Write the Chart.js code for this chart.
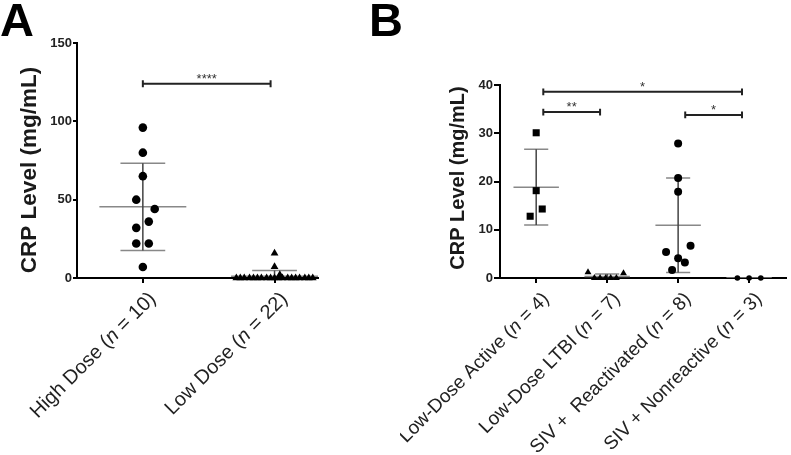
<!DOCTYPE html>
<html>
<head>
<meta charset="utf-8">
<script src="https://cdn.jsdelivr.net/npm/chart.js@4.4.0/dist/chart.umd.min.js"></script>
<style>
  body { margin: 0; background: #fff; width: 791px; height: 455px; overflow: hidden; position: relative; font-family: 'Liberation Sans', Arial, sans-serif; }
  .panel { position: absolute; top: 0; }
  .letter { position: absolute; top: -4px; font-weight: bold; font-size: 47px; line-height: 1; color: #000; }
</style>
</head>
<body>
<div class="panel" style="left:0"><canvas id="chartA" width="400" height="455"></canvas></div>
<div class="panel" style="left:400px"><canvas id="chartB" width="391" height="455"></canvas></div>
<div class="letter" style="left:0px">A</div>
<div class="letter" style="left:369px">B</div>
<script>
// Panel A - CRP by dose
const groupsA = ['High Dose', 'Low Dose'];
const countsA = [10, 22];
const highDose = [96, 80, 65, 50, 44, 36, 32, 22, 22, 7];
const highDoseJitter = [0, 0, 0, -0.05, 0.09, 0.045, -0.05, -0.05, 0.045, 0];
const lowDose = [15.8, 7.2, 2, 0, 0, 0, 0, 0, 0, 0, 0, 0, 0, 0, 0, 0, 0, 0, 0, 0, 0, 0];
const lowDoseJitter = [0, 0, 0.04, -0.29, -0.26, -0.23, -0.19, -0.16, -0.13, -0.1, -0.06, -0.03, 0, 0.03, 0.06, 0.1, 0.13, 0.16, 0.19, 0.23, 0.26, 0.29];
const ticksA = [0, 50, 100, 150];
const sigA = [{ from: 0, to: 0.97, y: 124, text: '****' }];

// Panel B - CRP by outcome
const groupsB = ['Low-Dose Active', 'Low-Dose LTBI', 'SIV +  Reactivated', 'SIV + Nonreactive'];
const countsB = [4, 7, 8, 3];
const ldActive = [30.1, 18.1, 14.3, 12.8];
const ldActiveJitter = [0, 0, 0.085, -0.085];
const ldLtbi = [1.2, 0, 0, 0, 0, 0, 1.0];
const ldLtbiJitter = [-0.27, -0.18, -0.1, -0.02, 0.05, 0.13, 0.23];
const sivReact = [27.9, 20.7, 17.9, 6.7, 5.4, 4.1, 3.2, 1.65];
const sivReactJitter = [0, 0, 0, 0.175, -0.17, 0, 0.095, -0.085];
const sivNonreact = [0, 0, 0];
const sivNonreactJitter = [-0.165, 0, 0.165];
const ticksB = [0, 10, 20, 30, 40];
const sigB = [
  { from: 0.1, to: 2.9, y: 38.6, text: '*' },
  { from: 0.1, to: 0.9, y: 34.4, text: '**' },
  { from: 2.1, to: 2.9, y: 33.8, text: '*' }
];

const FONT = "'Liberation Sans', Arial, sans-serif";

function mean(a) { return a.reduce((s, v) => s + v, 0) / a.length; }
function sd(a) {
  const m = mean(a);
  return Math.sqrt(a.reduce((s, v) => s + (v - m) * (v - m), 0) / (a.length - 1));
}

function points(values, jitter, idx) {
  return values.map((v, i) => ({ x: idx + jitter[i], y: v }));
}

function scatterSet(data, style, radius) {
  return {
    data: data, showLine: false, pointStyle: style, pointRadius: radius,
    pointBackgroundColor: '#000', pointBorderColor: '#000', pointBorderWidth: 0, clip: false
  };
}

// mean line + sd caps (grey) and sd stems (dark)
function summarySets(sets, half, cap) {
  const bars = [], stems = [];
  sets.forEach((vals, i) => {
    const m = mean(vals), s = sd(vals);
    bars.push({ x: i - half, y: m }, { x: i + half, y: m }, { x: i, y: null },
      { x: i - cap, y: m + s }, { x: i + cap, y: m + s }, { x: i, y: null },
      { x: i - cap, y: m - s }, { x: i + cap, y: m - s }, { x: i, y: null });
    stems.push({ x: i, y: m - s }, { x: i, y: m + s }, { x: i, y: null });
  });
  return [
    { data: stems, showLine: true, pointRadius: 0, borderColor: '#444', borderWidth: 1.5, spanGaps: false },
    { data: bars, showLine: true, pointRadius: 0, borderColor: '#888', borderWidth: 1.5, spanGaps: false }
  ];
}

function bracketSet(sig, t) {
  const d = [];
  sig.forEach(b => {
    d.push({ x: b.from, y: b.y }, { x: b.to, y: b.y }, { x: b.from, y: null },
      { x: b.from, y: b.y - t }, { x: b.from, y: b.y + t }, { x: b.from, y: null },
      { x: b.to, y: b.y - t }, { x: b.to, y: b.y + t }, { x: b.to, y: null });
  });
  return { data: d, showLine: true, pointRadius: 0, borderColor: '#222', borderWidth: 2, spanGaps: false, clip: false };
}

// rotated group labels with italic n, y title and significance stars
const textPlugin = {
  id: 'panelText',
  afterDraw(chart, args, o) {
    const ctx = chart.ctx, xs = chart.scales.x, ys = chart.scales.y;
    const y0 = ys.getPixelForValue(0);
    ctx.save();
    ctx.fillStyle = '#222';
    const fontFor = it => (it ? 'italic ' : '') + o.labelSize + 'px ' + FONT;
    o.groups.forEach((g, i) => {
      const parts = [[g + ' (', false], ['n', true], [' = ' + o.counts[i] + ')', false]];
      let total = 0;
      parts.forEach(p => { ctx.font = fontFor(p[1]); total += ctx.measureText(p[0]).width; });
      ctx.save();
      ctx.translate(xs.getPixelForValue(i) + o.dx, y0 + o.dy);
      ctx.rotate(-Math.PI / 4);
      ctx.textBaseline = 'middle';
      ctx.textAlign = 'left';
      let x = -total;
      parts.forEach(p => { ctx.font = fontFor(p[1]); ctx.fillText(p[0], x, 0); x += ctx.measureText(p[0]).width; });
      ctx.restore();
    });

    ctx.save();
    ctx.fillStyle = '#1a1a1a';
    ctx.translate(o.titleX, o.titleY);
    ctx.rotate(-Math.PI / 2);
    ctx.font = 'bold ' + o.titleSize + 'px ' + FONT;
    ctx.textAlign = 'center';
    ctx.textBaseline = 'middle';
    ctx.fillText('CRP Level (mg/mL)', 0, 0);
    ctx.restore();

    ctx.fillStyle = '#333';
    ctx.font = '13px ' + FONT;
    ctx.textAlign = 'center';
    ctx.textBaseline = 'alphabetic';
    o.sig.forEach(b => {
      const cx = xs.getPixelForValue((b.from + b.to) / 2);
      ctx.fillText(b.text, cx, ys.getPixelForValue(b.y) - 1);
    });
    ctx.restore();
  }
};

function makeChart(id, c) {
  return new Chart(document.getElementById(id), {
    type: 'scatter',
    data: { datasets: c.datasets },
    options: {
      responsive: false,
      animation: false,
      events: [],
      layout: { padding: { left: 0, top: c.top, right: c.right, bottom: 0 } },
      plugins: {
        legend: { display: false },
        tooltip: { enabled: false },
        panelText: c.text
      },
      scales: {
        x: {
          type: 'linear', min: c.xMin, max: c.xMax,
          afterFit: s => { s.height = 455 - 278; },
          afterBuildTicks: s => { s.ticks = c.text.groups.map((g, i) => ({ value: i })); },
          ticks: { display: false },
          grid: { drawOnChartArea: false, drawTicks: true, tickLength: 5, color: '#000', lineWidth: 2 },
          border: { color: '#000', width: 2 }
        },
        y: {
          min: 0, max: c.yTicks[c.yTicks.length - 1],
          afterFit: s => { s.width = c.axisLeft; },
          afterBuildTicks: s => { s.ticks = c.yTicks.map(v => ({ value: v })); },
          ticks: { color: '#222', padding: 1, font: { family: FONT, size: c.tickSize, weight: 'bold' } },
          grid: { drawOnChartArea: false, drawTicks: true, tickLength: c.tickLen, color: '#000', lineWidth: 2 },
          border: { color: '#000', width: 2 }
        }
      }
    },
    plugins: [textPlugin]
  });
}

makeChart('chartA', {
  top: 43, right: 82, axisLeft: 77, xMin: -0.5, xMax: 1.33, yTicks: ticksA, tickSize: 13, tickLen: 4,
  datasets: [
    scatterSet(points(highDose, highDoseJitter, 0), 'circle', 4.3),
    scatterSet(points(lowDose, lowDoseJitter, 1), 'triangle', 4.5),
    ...summarySets([highDose, lowDose], 0.33, 0.17),
    bracketSet(sigA, 2.3)
  ],
  text: { groups: groupsA, counts: countsA, labelSize: 20, dx: 10, dy: 18, titleX: 30, titleY: 170, titleSize: 22.5, sig: sigA }
});

makeChart('chartB', {
  top: 85, right: 1, axisLeft: 100, xMin: -0.51, xMax: 3.52, yTicks: ticksB, tickSize: 13, tickLen: 6,
  datasets: [
    scatterSet(points(ldActive, ldActiveJitter, 0), 'rect', 5),
    scatterSet(points(ldLtbi, ldLtbiJitter, 1), 'triangle', 4),
    scatterSet(points(sivReact, sivReactJitter, 2), 'circle', 4),
    scatterSet(points(sivNonreact, sivNonreactJitter, 3), 'circle', 2.8),
    ...summarySets([ldActive, ldLtbi, sivReact, sivNonreact], 0.32, 0.17),
    bracketSet(sigB, 0.7)
  ],
  text: { groups: groupsB, counts: countsB, labelSize: 19, dx: 10, dy: 18, titleX: 58, titleY: 178, titleSize: 20, sig: sigB }
});
</script>
</body>
</html>
